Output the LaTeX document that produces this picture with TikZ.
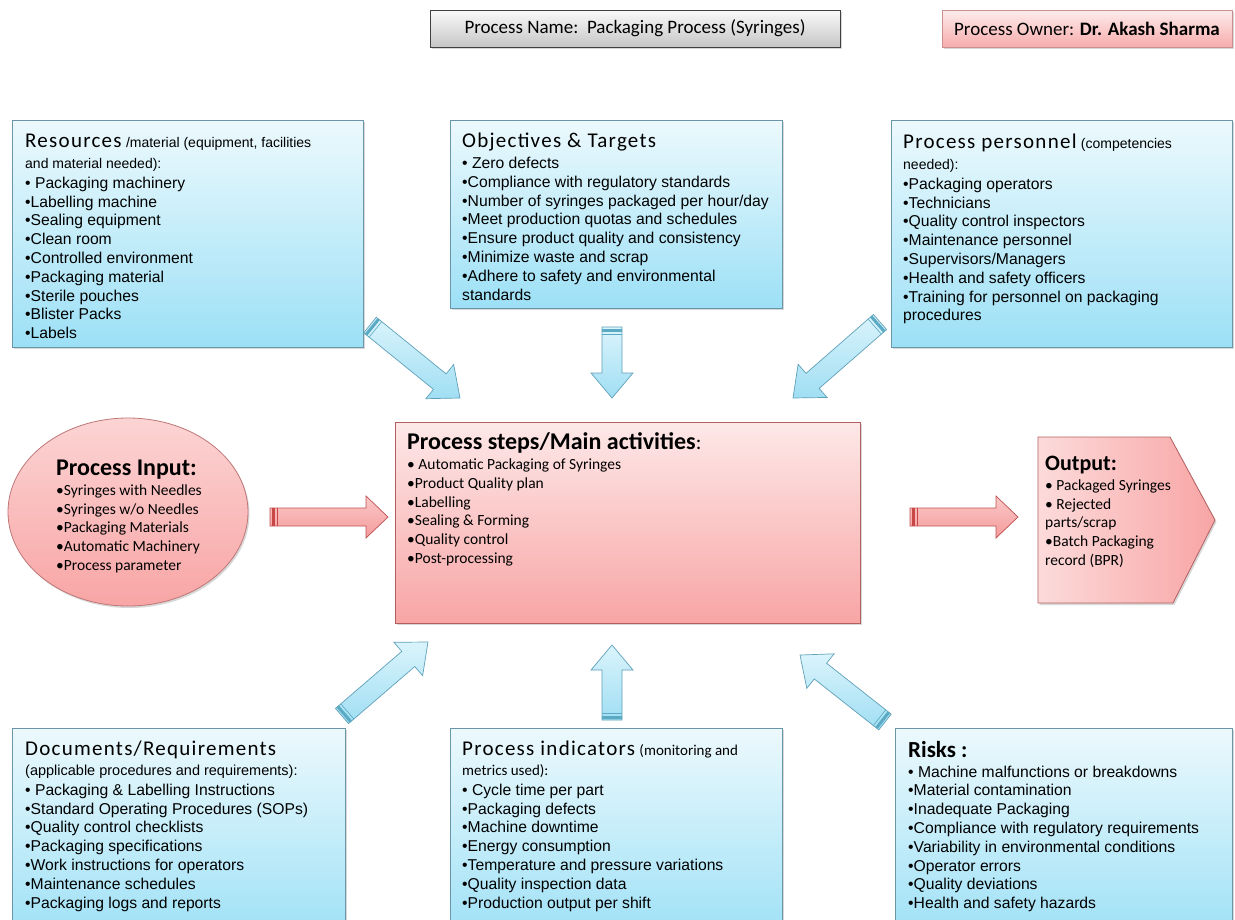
\documentclass[tikz,border=0pt]{standalone}
\usepackage{fontspec}
\setmainfont{Liberation Sans}
\newfontfamily\calfont{Carlito}
\newfontfamily\calspaced[LetterSpace=6]{Carlito}
\usetikzlibrary{shadows,shapes.geometric}
\definecolor{bluetop}{RGB}{236,249,253}
\definecolor{bluebot}{RGB}{156,224,246}
\definecolor{blueedge}{RGB}{105,150,168}
\definecolor{pinktop}{RGB}{254,232,232}
\definecolor{pinkbot}{RGB}{248,165,165}
\definecolor{pinkedge}{RGB}{180,95,95}
\definecolor{arrtop}{RGB}{218,244,252}
\definecolor{arrbot}{RGB}{160,222,243}
\definecolor{arredge}{RGB}{95,160,185}
\definecolor{arrstripe}{RGB}{90,170,195}
\definecolor{rarrtop}{RGB}{251,200,200}
\definecolor{rarrbot}{RGB}{244,155,155}
\definecolor{rarredge}{RGB}{190,80,80}
\definecolor{rarrstripe}{RGB}{200,70,70}
\definecolor{ownertop}{RGB}{254,236,236}
\definecolor{ownerbot}{RGB}{247,172,172}
\newcommand\hdfont{\calspaced\fontsize{21}{24}\selectfont}
\newcommand\smfont{\fontsize{14}{16}\selectfont}
\newcommand\mkarrow[9]{%
  \pgfmathsetmacro\arrang{atan2(-(#6)+(#4),(#5)-(#3))}%
  \pgfmathsetmacro\arrlen{veclen((#5)-(#3),(#6)-(#4))}%
  \pgfmathsetmacro\arrneck{\arrlen-#9}%
  \begin{scope}[shift={(#3,#4)},rotate=\arrang]
    \draw[#1] (0,-#7) -- (\arrneck,-#7) -- (\arrneck,-#8) -- (\arrlen,0) -- (\arrneck,#8) -- (\arrneck,#7) -- (0,#7) -- cycle;
    \fill[#2] (1.5,-#7) rectangle (4.5,#7);
    \draw[#2, line width=0.6pt] (7,-#7) -- (7,#7);
  \end{scope}}
\begin{document}
\begin{tikzpicture}[x=1pt,y=-1pt,
  shadowed/.style={drop shadow={opacity=0.3,shadow xshift=1.5pt,shadow yshift=-2pt}},
  bluebox/.style={draw=blueedge, line width=0.8pt, top color=bluetop, bottom color=bluebot, anchor=north west, inner sep=0pt, shadowed},
  pinkbox/.style={draw=pinkedge, line width=0.8pt, top color=pinktop, bottom color=pinkbot, inner sep=0pt, shadowed},
  grayhdr/.style={draw=black!75, line width=0.8pt, top color=gray!4, bottom color=gray!45, minimum height=37, inner sep=0pt, font=\calfont\fontsize{19}{22}\selectfont, shadowed},
  ownerhdr/.style={draw=pinkedge!70, line width=0.8pt, top color=ownertop, bottom color=ownerbot, minimum height=37, inner sep=0pt, font=\calfont\fontsize{19}{22}\selectfont, shadowed},
  txt/.style={anchor=north west, inner sep=0pt, align=left, font=\fontsize{15.7}{18.8}\selectfont},
  caltxt/.style={anchor=north west, inner sep=0pt, align=left, font=\calfont\fontsize{15.5}{18.7}\selectfont},
  blockarrow/.style={draw=arredge, line width=0.7pt, top color=arrtop, bottom color=arrbot},
  redarrow/.style={draw=rarredge, line width=0.7pt, top color=rarrtop, bottom color=rarrbot},
]
\useasboundingbox (0,0) rectangle (1235,919);
\clip (0,0) rectangle (1235,919);
\fill[white] (0,0) rectangle (1235,919);

% header
\node[grayhdr, minimum width=410] (pname) at (635,28.5) {Process Name:\ \ Packaging Process (Syringes)};
\node[ownerhdr, minimum width=290] (owner) at (1087,28.5) {Process Owner: \textbf{Dr. Akash Sharma}};

% blue boxes
\node[bluebox, minimum width=351, minimum height=227] (res) at (12,120) {};
\node[bluebox, minimum width=332, minimum height=188] (obj) at (450,120) {};
\node[bluebox, minimum width=341, minimum height=227] (pers) at (891,120) {};
\node[bluebox, minimum width=333, minimum height=215] (docs) at (12,728) {};
\node[bluebox, minimum width=332, minimum height=215] (ind) at (450,728) {};
\node[bluebox, minimum width=337, minimum height=215] (risk) at (895,728) {};

% central
\node[pinkbox, anchor=north west, minimum width=465, minimum height=201] (steps) at (395,422) {};
\node[pinkbox, ellipse, minimum width=240, minimum height=188, draw=pinkedge!85, top color=pinktop!70!pinkbot] (input) at (128,512) {};
\draw[draw=pinkedge, line width=0.8pt, left color=pinktop!80!pinkbot, right color=pinkbot, shadowed] (1038,437) -- (1170,437) -- (1215,520) -- (1173,603) -- (1038,603) -- cycle;

% texts
\node[txt] (restxt) at (25,134) {{\hdfont Resources} {\smfont /material (equipment, facilities}\\[2pt]
{\smfont and material needed):}\\[1pt]
• Packaging machinery\\
•Labelling machine\\
•Sealing equipment\\
•Clean room\\
•Controlled environment\\
•Packaging material\\
•Sterile pouches\\
•Blister Packs\\
•Labels};

\node[txt] (objtxt) at (462,133) {{\hdfont Objectives \& Targets}\\[2pt]
• Zero defects\\
•Compliance with regulatory standards\\
•Number of syringes packaged per hour/day\\
•Meet production quotas and schedules\\
•Ensure product quality and consistency\\
•Minimize waste and scrap\\
•Adhere to safety and environmental\\
standards};

\node[txt] (perstxt) at (903,134) {{\hdfont Process personnel} {\smfont (competencies}\\[2pt]
{\smfont needed):}\\[1pt]
•Packaging operators\\
•Technicians\\
•Quality control inspectors\\
•Maintenance personnel\\
•Supervisors/Managers\\
•Health and safety officers\\
•Training for personnel on packaging\\
procedures};

\node[txt] (docstxt) at (25,741) {{\hdfont Documents/Requirements}\\[1pt]
{\fontsize{14.5}{15}\selectfont (applicable procedures and requirements):}\\[1pt]
• Packaging \& Labelling Instructions\\
•Standard Operating Procedures (SOPs)\\
•Quality control checklists\\
•Packaging specifications\\
•Work instructions for operators\\
•Maintenance schedules\\
•Packaging logs and reports};

\node[txt] (indtxt) at (462,741) {{\hdfont Process indicators} {\calfont\fontsize{15}{16}\selectfont (monitoring and}\\[1pt]
{\calfont\fontsize{15}{16}\selectfont metrics used):}\\[1pt]
• Cycle time per part\\
•Packaging defects\\
•Machine downtime\\
•Energy consumption\\
•Temperature and pressure variations\\
•Quality inspection data\\
•Production output per shift};

\node[txt] (risktxt) at (908,741) {{\calfont\bfseries\fontsize{23}{24}\selectfont Risks :}\\[1pt]
• Machine malfunctions or breakdowns\\
•Material contamination\\
•Inadequate Packaging\\
•Compliance with regulatory requirements\\
•Variability in environmental conditions\\
•Operator errors\\
•Quality deviations\\
•Health and safety hazards};

\node[caltxt] (stepstxt) at (407,432) {{\bfseries\fontsize{24}{25}\selectfont Process steps/Main activities}{\fontsize{21}{24}\selectfont :}\\[2pt]
• Automatic Packaging of Syringes\\
•Product Quality plan\\
•Labelling\\
•Sealing \& Forming\\
•Quality control\\
•Post-processing};

\node[caltxt] (inputtxt) at (56,460) {{\bfseries\fontsize{24}{26}\selectfont Process Input:}\\[1pt]
•Syringes with Needles\\
•Syringes w/o Needles\\
•Packaging Materials\\
•Automatic Machinery\\
•Process parameter};

\node[caltxt] (outtxt) at (1045,456) {{\bfseries\fontsize{22}{24}\selectfont Output:}\\[1pt]
• Packaged Syringes\\
• Rejected\\
parts/scrap\\
•Batch Packaging\\
record (BPR)};

% arrows
\mkarrow{blockarrow}{arrstripe}{370}{325}{460}{398}{10}{22}{26}
\mkarrow{blockarrow}{arrstripe}{612}{327}{612}{398}{10}{21}{25}
\mkarrow{blockarrow}{arrstripe}{880}{322}{793}{398}{10}{22}{26}
\mkarrow{blockarrow}{arrstripe}{342}{716}{428}{642}{10}{22}{26}
\mkarrow{blockarrow}{arrstripe}{612}{720}{612}{645}{10}{21}{25}
\mkarrow{blockarrow}{arrstripe}{885}{722}{800}{655}{10}{22}{26}
\mkarrow{redarrow}{rarrstripe}{270}{517}{388}{517}{9}{21}{22}
\mkarrow{redarrow}{rarrstripe}{910}{517}{1018}{517}{9}{21}{22}
\end{tikzpicture}
\end{document}
